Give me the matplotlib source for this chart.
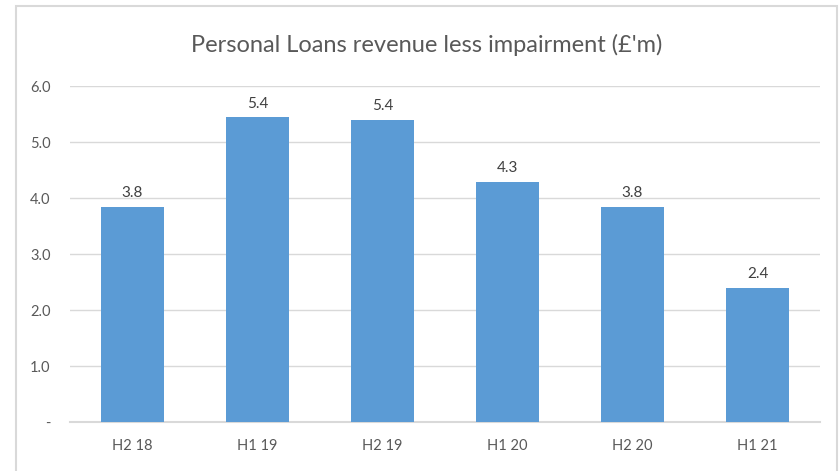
import matplotlib
matplotlib.use("Agg")
import matplotlib.pyplot as plt
from matplotlib.patches import Rectangle

periods = ["H2 18", "H1 19", "H2 19", "H1 20", "H2 20", "H1 21"]
revenue = [3.84, 5.44, 5.39, 4.29, 3.84, 2.40]
y_ticks = [0, 1, 2, 3, 4, 5, 6]
y_labels = ["-", "1.0", "2.0", "3.0", "4.0", "5.0", "6.0"]

plt.rcParams["font.family"] = ["Liberation Sans Narrow", "Lato", "DejaVu Sans"]

fig = plt.figure(figsize=(8.4, 4.71), dpi=100)
W, H = 840, 471

# chart border
fig.patches.append(Rectangle((16 / W, -0.05), (837 - 16) / W, (H - 6) / H + 0.05,
                             transform=fig.transFigure, fill=False,
                             edgecolor="#d9d9d9", linewidth=1.5))

ax = fig.add_axes([70 / W, (H - 422) / H, 750 / W, (422 - 86) / H])
x = range(len(periods))
bars = ax.bar(x, revenue, width=0.51, color="#5b9bd5", zorder=3)
for b, v in zip(bars, revenue):
    ax.text(b.get_x() + b.get_width() / 2, v + 0.12, f"{v:.1f}",
            ha="center", va="bottom", fontsize=11, color="#404040")

ax.set_xlim(-0.5, len(periods) - 0.5)
ax.set_ylim(0, 6)
ax.set_yticks(y_ticks)
ax.set_yticklabels(y_labels)
ax.set_xticks(list(x))
ax.set_xticklabels(periods)
ax.tick_params(axis="both", length=0, labelsize=10.5, colors="#595959")
ax.tick_params(axis="x", pad=12)
ax.tick_params(axis="y", pad=14)
ax.grid(axis="y", color="#d9d9d9", linewidth=1, zorder=0)
for s in ["top", "right", "left"]:
    ax.spines[s].set_visible(False)
ax.spines["bottom"].set_color("#d9d9d9")
ax.spines["bottom"].set_linewidth(1.5)

fig.text(427 / W, 1 - 45 / H, "Personal Loans revenue less impairment (£'m)",
         ha="center", va="center", fontsize=17, color="#595959")

fig.savefig("out.png", dpi=100)
